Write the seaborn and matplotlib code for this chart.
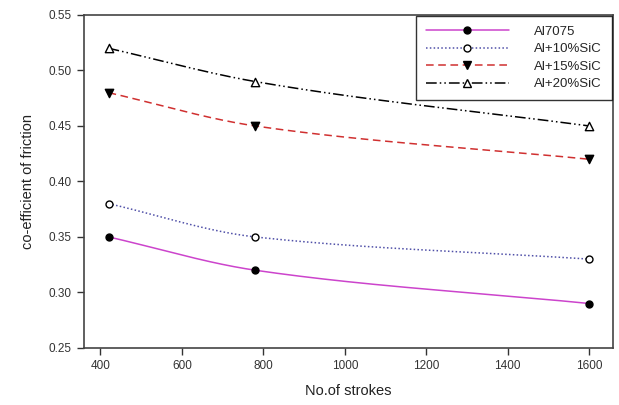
import numpy as np
import pandas as pd
import matplotlib
matplotlib.use("Agg")
import matplotlib.pyplot as plt
from matplotlib.lines import Line2D
import seaborn as sns

strokes = [420, 780, 1600]
al7075 = [0.35, 0.32, 0.29]
al10 = [0.38, 0.35, 0.33]
al15 = [0.48, 0.45, 0.42]
al20 = [0.52, 0.49, 0.45]
series_names = ["Al7075", "Al+10%SiC", "Al+15%SiC", "Al+20%SiC"]
series_vals = [al7075, al10, al15, al20]


def pchip_curve(x, y, n=200):
    """Monotone (Fritsch-Carlson) smooth curve through the given points."""
    x = np.asarray(x, float)
    y = np.asarray(y, float)
    h = np.diff(x)
    d = np.diff(y) / h
    m = np.zeros_like(y)
    m[0], m[-1] = d[0], d[-1]
    for k in range(1, len(x) - 1):
        if d[k - 1] * d[k] > 0:
            w1 = 2 * h[k] + h[k - 1]
            w2 = h[k] + 2 * h[k - 1]
            m[k] = (w1 + w2) / (w1 / d[k - 1] + w2 / d[k])
    xs = np.linspace(x[0], x[-1], n)
    ys = np.empty_like(xs)
    for i, xv in enumerate(xs):
        k = min(np.searchsorted(x, xv, side="right") - 1, len(x) - 2)
        t = (xv - x[k]) / h[k]
        h00 = 2 * t**3 - 3 * t**2 + 1
        h10 = t**3 - 2 * t**2 + t
        h01 = -2 * t**3 + 3 * t**2
        h11 = t**3 - t**2
        ys[i] = h00 * y[k] + h10 * h[k] * m[k] + h01 * y[k + 1] + h11 * h[k] * m[k + 1]
    return xs, ys


sns.set_style("white")
plt.rcParams['font.family'] = ['Liberation Sans', 'DejaVu Sans']

styles = {
    "Al7075": dict(color="#cc44cc", ls="-", marker="o", mfc="black", mec="black", ms=5),
    "Al+10%SiC": dict(color="#5050a8", ls=(0, (1, 1.5)), marker="o", mfc="white", mec="black", ms=5),
    "Al+15%SiC": dict(color="#d03030", ls=(0, (5, 3)), marker="v", mfc="black", mec="black", ms=6),
    "Al+20%SiC": dict(color="black", ls=(0, (7, 2, 1, 2, 1, 2)), marker="^", mfc="white", mec="black", ms=6),
}

fig = plt.figure(figsize=(6.19, 4.05), dpi=100)
ax = fig.add_axes([0.136, 0.141, 0.854, 0.822])

handles = []
for name, vals in zip(series_names, series_vals):
    st = styles[name]
    xs, ys = pchip_curve(strokes, vals)
    curve = pd.DataFrame({"x": xs, "y": ys})
    sns.lineplot(data=curve, x="x", y="y", ax=ax, color=st["color"],
                 linestyle=st["ls"], linewidth=1.1, legend=False)
    pts = pd.DataFrame({"x": strokes, "y": vals})
    sns.scatterplot(data=pts, x="x", y="y", ax=ax, marker=st["marker"],
                    s=st["ms"] ** 2, facecolor=st["mfc"], edgecolor=st["mec"],
                    linewidth=1.0, zorder=5, legend=False)
    handles.append(Line2D([], [], color=st["color"], linestyle=st["ls"], linewidth=1.1,
                          marker=st["marker"], markersize=st["ms"],
                          markerfacecolor=st["mfc"], markeredgecolor=st["mec"]))

ax.set_xlim(360, 1658)
ax.set_ylim(0.25, 0.55)
ax.set_xticks([400, 600, 800, 1000, 1200, 1400, 1600])
ax.set_yticks([0.25, 0.30, 0.35, 0.40, 0.45, 0.50, 0.55])
ax.set_yticklabels([f"{v:.2f}" for v in [0.25, 0.30, 0.35, 0.40, 0.45, 0.50, 0.55]])
ax.tick_params(axis="both", which="both", direction="out", length=5, width=1,
               colors="#333333", labelsize=8.5, left=True, bottom=True, pad=4)
for sp in ax.spines.values():
    sp.set_visible(True)
    sp.set_color("#444444")
    sp.set_linewidth(1.2)
ax.set_xlabel("No.of strokes", fontsize=10.5, color="#222222", labelpad=8)
ax.set_ylabel("co-efficient of friction", fontsize=10.5, color="#222222", labelpad=10)

leg = ax.legend(handles, series_names, loc="upper right", frameon=True, fancybox=False,
                fontsize=9.5, handlelength=6.3, borderpad=0.75, labelspacing=0.4,
                bbox_to_anchor=(0.998, 0.998), borderaxespad=0.0, handletextpad=1.9)
leg.get_frame().set_edgecolor("black")
leg.get_frame().set_linewidth(1.0)

fig.savefig("out.png", dpi=100)
